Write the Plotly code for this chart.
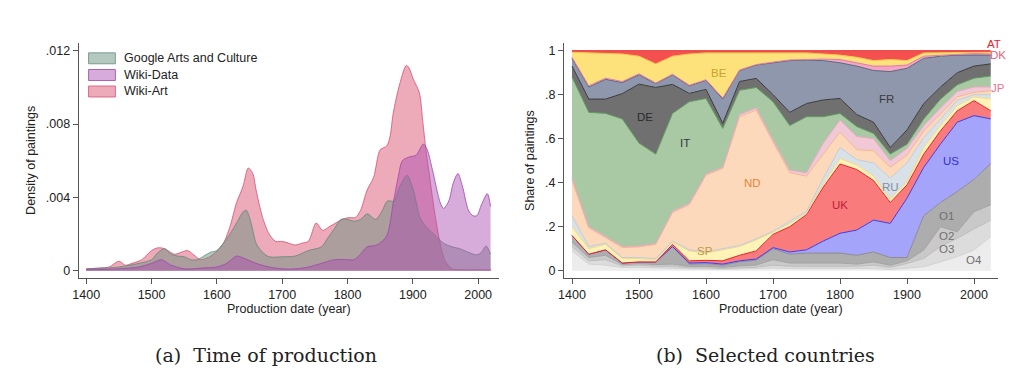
import plotly.graph_objects as go

# ---------------- Panel (a): density of paintings ----------------
google_years = [1400,1450,1480,1500,1510,1520,1530,1540,1550,1560,1570,1580,1590,1600,1610,1620,1630,1640,1645,1650,1655,1660,1670,1680,1700,1720,1740,1760,1770,1780,1790,1800,1810,1820,1830,1843,1852,1861,1871,1880,1891,1900,1911,1920,1932,1947,1960,1972,1985,1998,2005,2012,2019]
google_vals = [0.0001,0.0002,0.0004,0.0006,0.001,0.0012,0.0009,0.0008,0.00076,0.0006,0.0006,0.0008,0.001,0.0011,0.0015,0.002,0.0026,0.0032,0.0033,0.0029,0.0022,0.0015,0.001,0.00076,0.00076,0.0008,0.0011,0.0013,0.0018,0.0023,0.0028,0.0028,0.0027,0.0028,0.0031,0.0028,0.0032,0.0038,0.0038,0.0046,0.0052,0.0045,0.0029,0.0024,0.002,0.0015,0.0013,0.0012,0.001,0.00086,0.001,0.00135,0.0009]

wikidata_years = [1400,1450,1480,1500,1515,1530,1550,1580,1600,1615,1630,1640,1660,1680,1700,1720,1740,1760,1780,1800,1810,1820,1830,1845,1860,1870,1877,1884,1894,1905,1916,1922,1930,1942,1947,1955,1962,1969,1976,1985,1992,1998,2005,2014,2019]
wikidata_vals = [0.00005,0.0001,0.0002,0.0004,0.0006,0.0003,0.0001,0.00015,0.0002,0.0004,0.0008,0.0007,0.0004,0.0002,0.0001,0.0001,0.0002,0.0004,0.0006,0.0006,0.0006,0.0009,0.0013,0.0014,0.0019,0.0037,0.005,0.006,0.0062,0.0063,0.0069,0.0066,0.0055,0.0037,0.0034,0.0038,0.0048,0.0053,0.0046,0.0033,0.003,0.003,0.0036,0.0042,0.0035]

wikiart_years = [1400,1420,1435,1450,1460,1470,1485,1500,1510,1520,1535,1545,1555,1565,1575,1590,1600,1610,1620,1630,1640,1648,1655,1660,1670,1680,1690,1700,1710,1720,1730,1740,1752,1762,1772,1782,1792,1802,1812,1820,1830,1840,1850,1860,1865,1870,1880,1890,1895,1900,1910,1915,1920,1925,1930,1935,1940,1945,1950,1960,1980,2000,2020]
wikiart_vals = [0.0001,0.00015,0.0002,0.00052,0.0003,0.0004,0.0006,0.0011,0.00125,0.0012,0.0009,0.001,0.0011,0.00085,0.0006,0.00078,0.00107,0.0015,0.0024,0.0037,0.0046,0.0056,0.0053,0.0044,0.0029,0.002,0.0016,0.0016,0.0015,0.0014,0.0015,0.0016,0.0026,0.0022,0.0024,0.0026,0.0028,0.0029,0.0029,0.0033,0.0044,0.0051,0.0066,0.0068,0.0073,0.0086,0.0102,0.0112,0.011,0.0105,0.0097,0.0082,0.0066,0.0053,0.004,0.0028,0.0018,0.001,0.0005,0.0001,0.00005,0.00005,0.00005]

density_series = ["Google Arts and Culture", "Wiki-Data", "Wiki-Art"]
density_ticks = [0, 0.004, 0.008, 0.012]
density_ticktext = ["0", ".004", ".008", ".012"]

# ---------------- Panel (b): cumulative shares (top edge of each band) ----------------
share_years = [1400,1425,1450,1475,1500,1525,1550,1575,1600,1625,1650,1675,1700,1725,1750,1775,1800,1825,1850,1875,1900,1925,1950,1975,2000,2025]
countries = ["O4","O3","O2","O1","US","UK","SP","RU","ND","JP","IT","DE","FR","DK","BE","AT"]
cum_O4 = [.09,.03,.025,.015,.015,.012,.01,.008,.008,.006,.008,.01,.012,.01,.01,.01,.01,.01,.01,.005,.01,.018,.04,.064,.094,.155]
cum_O3 = [.11,.045,.05,.022,.025,.02,.02,.013,.013,.01,.013,.016,.025,.02,.02,.02,.02,.02,.025,.015,.033,.056,.11,.147,.19,.23]
cum_O2 = [.13,.06,.07,.028,.032,.028,.03,.02,.02,.016,.022,.026,.05,.035,.035,.035,.035,.03,.04,.025,.045,.094,.2,.177,.268,.30]
cum_O1 = [.16,.075,.095,.035,.04,.04,.11,.03,.032,.025,.04,.048,.10,.075,.08,.08,.08,.07,.085,.06,.06,.25,.31,.36,.415,.487]
cum_US = [.16,.075,.095,.035,.04,.04,.11,.035,.037,.03,.045,.053,.105,.085,.095,.135,.17,.185,.23,.215,.33,.47,.576,.675,.705,.69]
cum_UK = [.16,.075,.095,.035,.04,.04,.12,.045,.047,.045,.07,.09,.165,.20,.255,.38,.485,.46,.41,.31,.39,.53,.636,.727,.773,.727]
cum_SP = [.20,.10,.12,.055,.055,.05,.13,.09,.08,.095,.11,.14,.175,.215,.262,.395,.51,.48,.43,.325,.405,.56,.66,.75,.79,.78]
cum_RU = [.25,.11,.125,.06,.06,.055,.135,.095,.085,.10,.115,.145,.18,.225,.27,.42,.56,.505,.49,.42,.49,.605,.69,.775,.80,.80]
cum_ND = [.41,.195,.15,.105,.108,.12,.265,.30,.435,.465,.70,.73,.585,.445,.43,.53,.63,.55,.545,.47,.525,.635,.712,.79,.81,.818]
cum_JP = [.42,.20,.155,.11,.112,.124,.27,.306,.44,.47,.71,.74,.594,.457,.445,.58,.685,.61,.60,.50,.556,.66,.74,.815,.835,.835]
cum_IT = [.88,.72,.715,.69,.58,.53,.715,.768,.783,.647,.82,.833,.768,.66,.70,.70,.715,.655,.624,.53,.575,.69,.78,.845,.875,.885]
cum_DE = [.93,.78,.78,.805,.848,.833,.847,.806,.824,.67,.86,.874,.80,.72,.76,.776,.783,.71,.675,.56,.64,.76,.835,.90,.93,.94]
cum_FR = [.965,.835,.87,.855,.89,.85,.89,.84,.865,.78,.91,.935,.945,.955,.957,.955,.945,.93,.91,.905,.92,.965,.975,.98,.98,.98]
cum_DK = [.97,.84,.875,.86,.895,.853,.893,.843,.868,.785,.912,.937,.948,.958,.96,.962,.96,.945,.93,.93,.935,.975,.98,.985,.987,.985]
cum_BE = [.993,.99,.985,.985,.975,.94,.975,.985,.99,.99,.99,.993,.993,.993,.99,.985,.98,.97,.955,.96,.955,.99,.99,.99,.993,.993]
cum_AT = [1]*26
share_ticks = [0, 0.2, 0.4, 0.6, 0.8, 1]
share_ticktext = ["0", ".2", ".4", ".6", ".8", "1"]
year_ticks = [1400, 1500, 1600, 1700, 1800, 1900, 2000]

cum = dict(O4=cum_O4, O3=cum_O3, O2=cum_O2, O1=cum_O1, US=cum_US, UK=cum_UK, SP=cum_SP,
           RU=cum_RU, ND=cum_ND, JP=cum_JP, IT=cum_IT, DE=cum_DE, FR=cum_FR, DK=cum_DK,
           BE=cum_BE, AT=cum_AT)

band_style = {
    "O4": ("#ececec", "#d2d2d2"), "O3": ("#dcdcdc", "#bcbcbc"), "O2": ("#c9c9c9", "#a2a2a2"),
    "O1": ("#adadad", "#8c8c8c"), "US": ("#a4a4fa", "#3c3cf0"), "UK": ("#fa7b7b", "#e8202a"),
    "SP": ("#fff3b8", "#f3d98a"), "RU": ("#d8e0e8", "#c0ccd8"), "ND": ("#fdd9bb", "#f2b88e"),
    "JP": ("#f1c9d6", "#e8a8c0"), "IT": ("#a9c9a4", "#5f9a5f"), "DE": ("#707070", "#3a3a3a"),
    "FR": ("#8e97ab", "#5c6680"), "DK": ("#f3a6c4", "#e07aa0"), "BE": ("#fde27b", "#f2c94c"),
    "AT": ("#f55050", "#e83030"),
}

fig = go.Figure()

# ---- panel a traces
dens_style = {
    "Google Arts and Culture": ("rgba(105,145,128,0.5)", "rgba(95,135,120,0.75)"),
    "Wiki-Data": ("rgba(172,80,178,0.48)", "rgba(160,70,170,0.8)"),
    "Wiki-Art": ("rgba(218,78,108,0.48)", "rgba(215,80,115,0.8)"),
}
dens_data = {
    "Wiki-Art": (wikiart_years, wikiart_vals),
    "Google Arts and Culture": (google_years, google_vals),
    "Wiki-Data": (wikidata_years, wikidata_vals),
}
for name in ["Wiki-Art", "Google Arts and Culture", "Wiki-Data"]:
    xs, ys = dens_data[name]
    fc, lc = dens_style[name]
    fig.add_trace(go.Scatter(x=xs, y=ys, mode="lines", fill="tozeroy", fillcolor=fc,
                             line=dict(color=lc, width=1, shape="spline", smoothing=0.8),
                             showlegend=False, xaxis="x", yaxis="y", name=name))

# ---- panel b traces
for i, c in enumerate(countries):
    fc, lc = band_style[c]
    fig.add_trace(go.Scatter(x=share_years, y=cum[c], mode="lines",
                             fill="tozeroy" if i == 0 else "tonexty", fillcolor=fc,
                             line=dict(color=lc, width=1), showlegend=False,
                             xaxis="x2", yaxis="y2", name=c))

axis_common = dict(showline=True, linecolor="#555555", linewidth=1, ticks="outside",
                   ticklen=5, tickwidth=1, tickcolor="#555555", showgrid=False, zeroline=False,
                   tickfont=dict(family="Liberation Sans, Arial", size=12.5, color="#222222"))

W, H = 1024, 384
OFF = 8  # page body margin offset
def px(x): return (x - OFF) / W
def py(y): return 1 - (y - OFF) / H

fig.update_layout(
    width=W, height=H, margin=dict(l=0, r=0, t=0, b=0),
    paper_bgcolor="white", plot_bgcolor="white", showlegend=False,
    xaxis=dict(domain=[px(73), px(496)], range=[1388.3, 2032.1], anchor="y",
               tickvals=year_ticks, **axis_common),
    yaxis=dict(domain=[py(278), py(43)], range=[-0.000398, 0.01242], anchor="x",
               tickvals=density_ticks, ticktext=density_ticktext, **axis_common),
    xaxis2=dict(domain=[px(561.3), px(998)], range=[1388.1, 2036.1], anchor="y2",
                tickvals=year_ticks, **axis_common),
    yaxis2=dict(domain=[py(278), py(43)], range=[-0.0332, 1.035], anchor="x2",
                tickvals=share_ticks, ticktext=share_ticktext, **axis_common),
)

ann = []
def pann(text, x, y, font, **kw):
    d = dict(text=text, x=px(x), y=py(y), xref="paper", yref="paper", showarrow=False,
             xanchor="center", yanchor="middle", font=font)
    d.update(kw)
    ann.append(d)

tfont = dict(family="Liberation Sans, Arial", size=12.5, color="#222222")
pann("Production date (year)", 285, 309, tfont)
pann("Production date (year)", 780, 309, tfont)
pann("Density of paintings", 25, 160, tfont, textangle=-90)
pann("Share of paintings", 527, 160, tfont, textangle=-90)
cfont = dict(family="DejaVu Serif", size=19, color="#222222")
pann("(a)  Time of production", 261, 355, cfont)
pann("(b)  Selected countries", 764, 355, cfont)

# custom legend for panel a
shapes = []
leg_rows = [58.3, 75, 91.5]
for name, yc in zip(density_series, leg_rows):
    fc, lc = dens_style[name]
    shapes.append(dict(type="rect", xref="paper", yref="paper", x0=px(83), x1=px(110),
                       y0=py(yc + 5.5), y1=py(yc - 5.5), fillcolor=fc, line=dict(color=lc, width=1)))
    pann(name, 117, yc, dict(family="Liberation Sans, Arial", size=12.5, color="#222222"),
         xanchor="left")

# in-chart labels for panel b
labels_b = [
    ("BE", 1619, 0.90, "#c9a42c"), ("DE", 1509, 0.70, "#2a2a2a"), ("IT", 1568, 0.58, "#3a3a3a"),
    ("ND", 1670, 0.40, "#e8853a"), ("SP", 1599, 0.09, "#c09a40"), ("FR", 1870, 0.78, "#3a3a3a"),
    ("UK", 1800, 0.30, "#c0203a"), ("RU", 1875, 0.38, "#7f8fa3"), ("US", 1965, 0.50, "#3030d0"),
    ("O1", 1959, 0.25, "#707070"), ("O2", 1959, 0.16, "#707070"), ("O3", 1959, 0.10, "#707070"),
    ("O4", 2000, 0.05, "#707070"), ("AT", 2030, 1.03, "#e82030"), ("DK", 2036, 0.98, "#e8607a"),
    ("JP", 2036, 0.83, "#e87898"),
]
for t, xv, yv, col in labels_b:
    ann.append(dict(text=t, x=xv, y=yv, xref="x2", yref="y2", showarrow=False,
                    xanchor="center", yanchor="middle",
                    font=dict(family="Liberation Sans, Arial", size=11.5, color=col)))

fig.update_layout(annotations=ann, shapes=shapes)
fig.write_html("out.html")
